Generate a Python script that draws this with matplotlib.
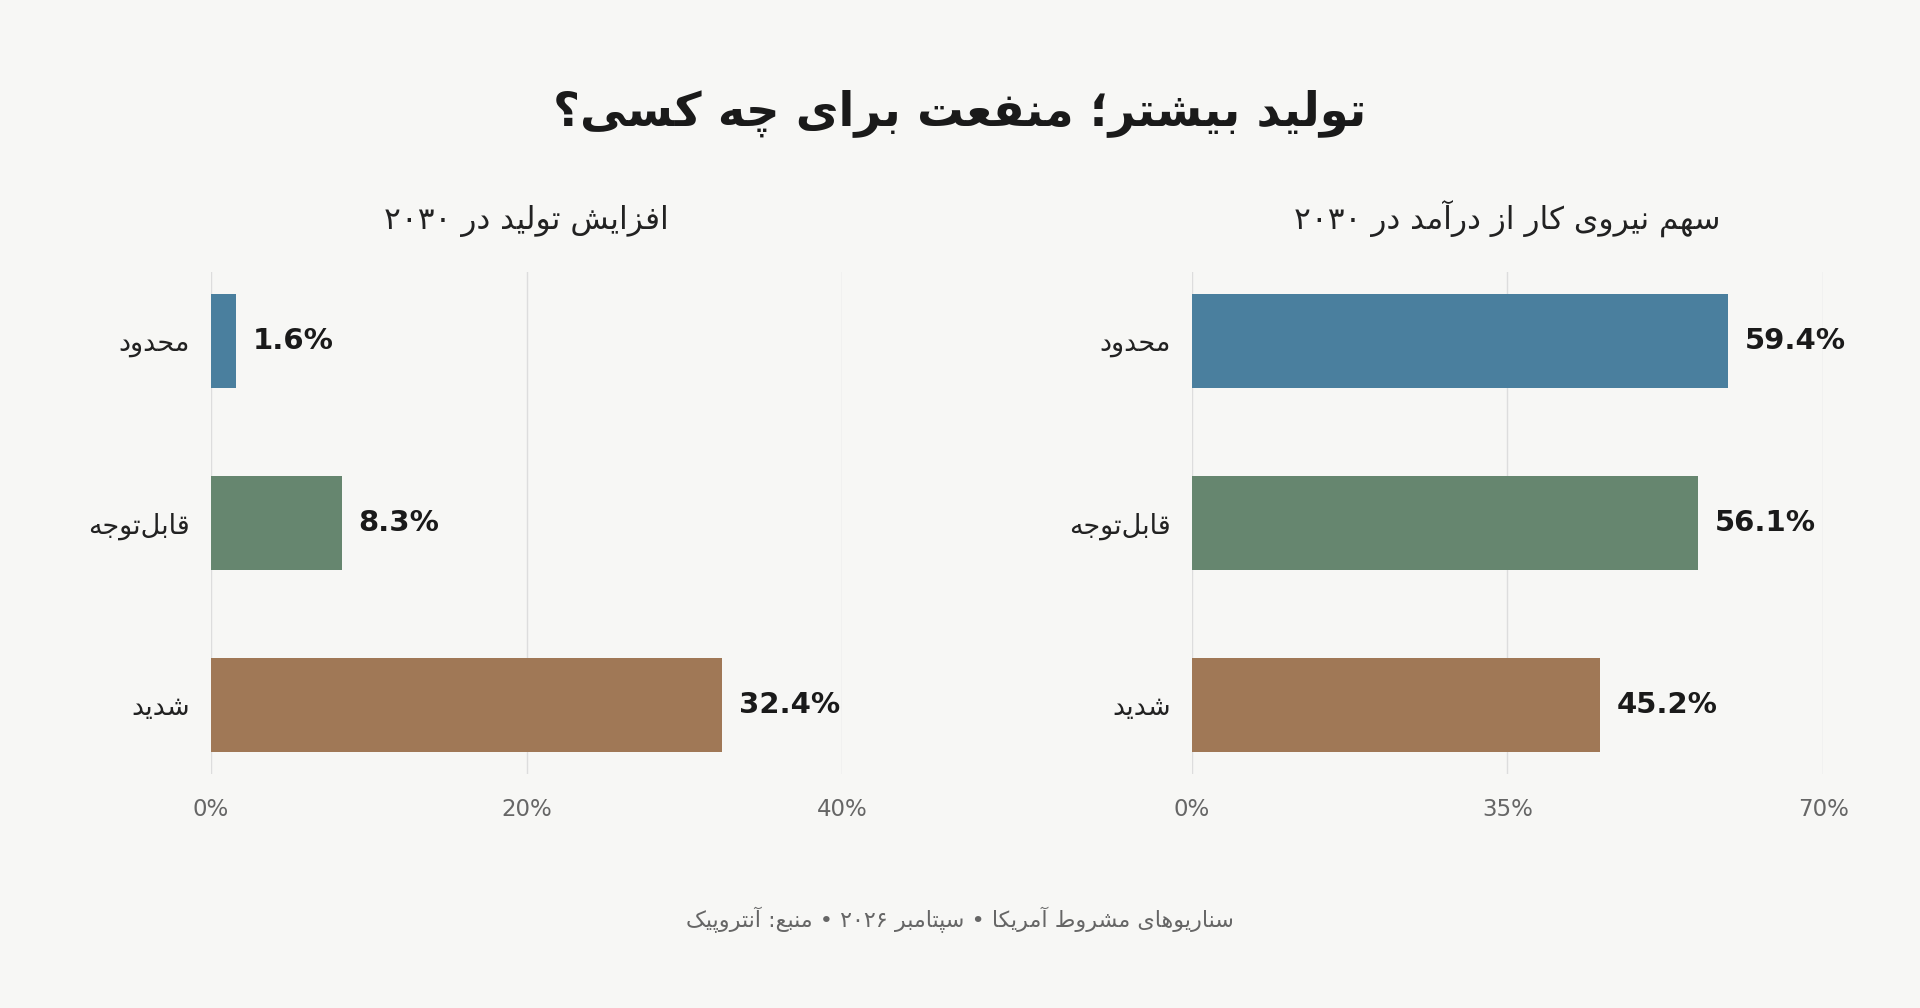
import matplotlib
matplotlib.use("Agg")
import matplotlib.pyplot as plt

# داده‌ها
categories = ["محدود", "قابل\u200cتوجه", "شدید"]
growth = [1.6, 8.3, 32.4]          # افزایش تولید در ۲۰۳۰
labor_share = [59.4, 56.1, 45.2]   # سهم نیروی کار از درآمد در ۲۰۳۰
colors = ["#4a7f9e", "#66866f", "#a07856"]

title = "تولید بیشتر؛ منفعت برای چه کسی؟"
sub_left = "افزایش تولید در ۲۰۳۰"
sub_right = "سهم نیروی کار از درآمد در ۲۰۳۰"
footer = "سناریوهای مشروط آمریکا • سپتامبر ۲۰۲۶ • منبع: آنتروپیک"

left_ticks = [0, 20, 40]
right_ticks = [0, 35, 70]

# شکل‌دهی ساده حروف فارسی (isolated, final, initial, medial)
FORMS = {
    'ا': ('\uFE8D', '\uFE8E'), 'آ': ('\uFE81', '\uFE82'),
    'د': ('\uFEA9', '\uFEAA'), 'ر': ('\uFEAD', '\uFEAE'),
    'ز': ('\uFEAF', '\uFEB0'), 'و': ('\uFEED', '\uFEEE'),
    'ب': ('\uFE8F', '\uFE90', '\uFE91', '\uFE92'),
    'ت': ('\uFE95', '\uFE96', '\uFE97', '\uFE98'),
    'ج': ('\uFE9D', '\uFE9E', '\uFE9F', '\uFEA0'),
    'ح': ('\uFEA1', '\uFEA2', '\uFEA3', '\uFEA4'),
    'س': ('\uFEB1', '\uFEB2', '\uFEB3', '\uFEB4'),
    'ش': ('\uFEB5', '\uFEB6', '\uFEB7', '\uFEB8'),
    'ط': ('\uFEC1', '\uFEC2', '\uFEC3', '\uFEC4'),
    'ع': ('\uFEC9', '\uFECA', '\uFECB', '\uFECC'),
    'ف': ('\uFED1', '\uFED2', '\uFED3', '\uFED4'),
    'ق': ('\uFED5', '\uFED6', '\uFED7', '\uFED8'),
    'ل': ('\uFEDD', '\uFEDE', '\uFEDF', '\uFEE0'),
    'م': ('\uFEE1', '\uFEE2', '\uFEE3', '\uFEE4'),
    'ن': ('\uFEE5', '\uFEE6', '\uFEE7', '\uFEE8'),
    'ه': ('\uFEE9', '\uFEEA', '\uFEEB', '\uFEEC'),
    'پ': ('\uFB56', '\uFB57', '\uFB58', '\uFB59'),
    'چ': ('\uFB7A', '\uFB7B', '\uFB7C', '\uFB7D'),
    'ک': ('\uFB8E', '\uFB8F', '\uFB90', '\uFB91'),
    'ی': ('\uFBFC', '\uFBFD', '\uFBFE', '\uFBFF'),
}


def fa(text):
    out = []
    n = len(text)
    for i, c in enumerate(text):
        if c == '\u200c':
            continue
        if c not in FORMS:
            out.append(c)
            continue
        f = FORMS[c]
        prev = text[i - 1] if i > 0 else None
        nxt = text[i + 1] if i + 1 < n else None
        jp = prev in FORMS and len(FORMS[prev]) == 4
        jn = len(f) == 4 and nxt in FORMS
        if jp and jn:
            out.append(f[3])
        elif jp:
            out.append(f[1])
        elif jn:
            out.append(f[2])
        else:
            out.append(f[0])
    # ترتیب نمایشی: راست به چپ، اعداد چپ به راست
    runs = []
    for ch in out:
        num = ch.isdigit()
        if runs and runs[-1][0] == num:
            runs[-1][1].append(ch)
        else:
            runs.append([num, [ch]])
    s = ""
    for num, chs in reversed(runs):
        s += "".join(chs if num else reversed(chs))
    return s


plt.rcParams['font.family'] = ['DejaVu Sans']
BG = "#f7f7f5"

fig = plt.figure(figsize=(19.2, 10.08), dpi=100, facecolor=BG)
axL = fig.add_axes([0.1097, 0.2321, 0.3291, 0.4981])
axR = fig.add_axes([0.6206, 0.2321, 0.3291, 0.4981])

for ax, vals, ticks, sub in [(axL, growth, left_ticks, sub_left),
                             (axR, labor_share, right_ticks, sub_right)]:
    ax.set_facecolor(BG)
    y = list(range(len(categories)))
    ax.barh(y, vals, height=0.52, color=colors, zorder=3)
    for yi, v in zip(y, vals):
        ax.annotate(f"{v}%", (v, yi), xytext=(12, 0), textcoords="offset points",
                    ha="left", va="center", fontsize=21, fontweight="bold",
                    color="#1a1a1a")
    ax.set_xlim(ticks[0], ticks[-1])
    ax.set_ylim(2.38, -0.38)
    ax.set_xticks(ticks)
    ax.set_xticklabels([f"{t}%" for t in ticks], fontsize=16.5, color="#666666")
    ax.set_yticks(y)
    ax.set_yticklabels([fa(c) for c in categories], fontsize=19.5, color="#222222")
    ax.tick_params(axis="x", length=0, pad=17)
    ax.tick_params(axis="y", length=0, pad=15)
    ax.grid(axis="x", color="#dddddd", linewidth=1, zorder=0)
    for sp in ax.spines.values():
        sp.set_visible(False)
    ax.set_title(fa(sub), fontsize=22.5, color="#222222", pad=31)

fig.text(0.5, 0.888, fa(title), ha="center", va="center", fontsize=33.5,
         fontweight="bold", color="#1a1a1a")
fig.text(0.5, 0.087, fa(footer), ha="center", va="center", fontsize=16,
         color="#666666")

fig.savefig("out.png", dpi=100, facecolor=BG)
